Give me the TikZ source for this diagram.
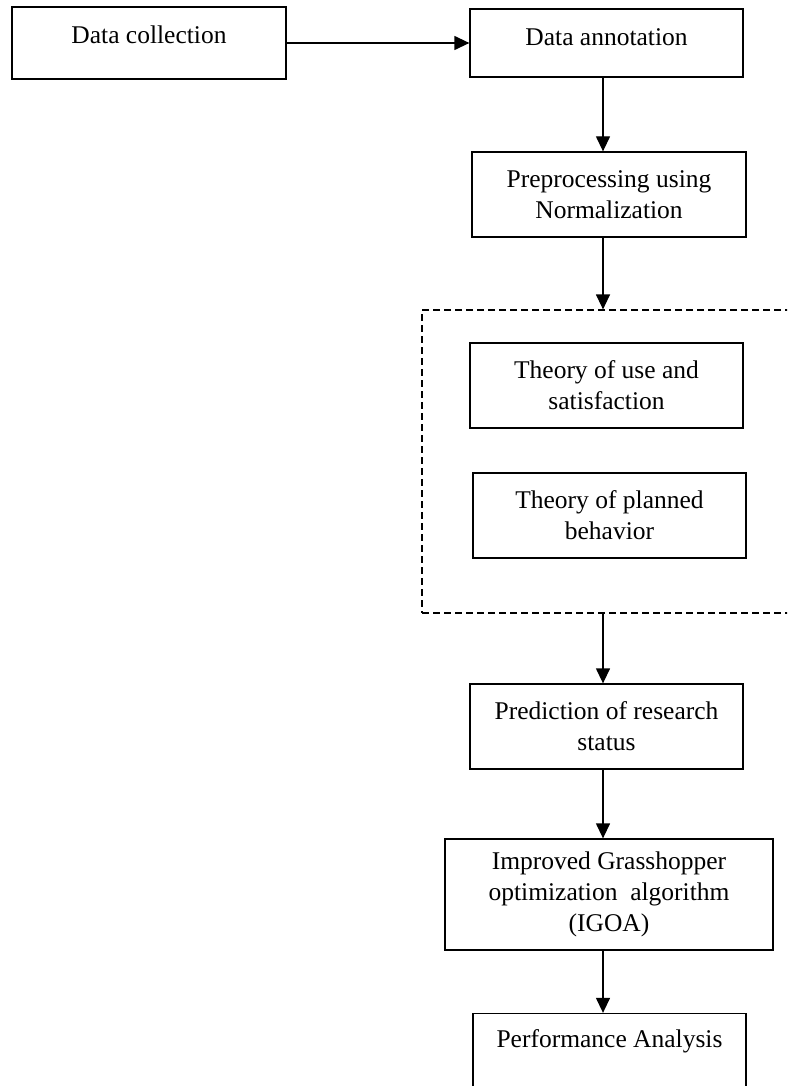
\documentclass[tikz,border=0pt]{standalone}
\usepackage{fontspec}
\setmainfont{Liberation Serif}
\usetikzlibrary{arrows.meta,calc}
\begin{document}
\begin{tikzpicture}[x=1pt,y=-1pt,
  box/.style={draw, line width=1.3pt, inner sep=0pt, align=center,
    font=\fontsize{25.5}{31}\selectfont},
  topbox/.style={draw, line width=1.3pt, inner sep=0pt,
    font=\fontsize{25.5}{31}\selectfont},
  grp/.style={draw, line width=1.2pt, dash pattern=on 7pt off 4pt, inner sep=0pt},
  arr/.style={line width=1.3pt, -{Triangle[length=15pt,width=14pt]}}]
\useasboundingbox (0,0) rectangle (787,1086);
\clip (0,0) rectangle (787,1086);
\coordinate (axis) at (603,0);
% boxes
\node[topbox, minimum width=274pt, text height=37pt, text depth=35pt] (dc) at (149,43) {Data collection};
\node[topbox, minimum width=273pt, text height=37pt, text depth=31pt] (da) at (606.5,43) {Data annotation};
\node[box, minimum width=274pt, minimum height=85pt] (pre) at (609,194.5) {Preprocessing using\\Normalization};
\node[grp, minimum width=380pt, minimum height=303pt] (grp) at (612,461.5) {};
\node[box, minimum width=273pt, minimum height=85pt] (t1) at (606.5,385.5) {Theory of use and\\satisfaction};
\node[box, minimum width=273pt, minimum height=85pt] (t2) at (609.5,515.5) {Theory of planned\\behavior};
\node[box, minimum width=273pt, minimum height=85pt] (pred) at (606.5,726.5) {Prediction of research\\status};
\node[box, minimum width=328pt, minimum height=111pt] (igoa) at (609,894.5) {Improved Grasshopper\\optimization\ \ algorithm\\(IGOA)};
\node[topbox, minimum width=273pt, text height=34pt, text depth=51pt] (perf) at (609.5,1056) {Performance Analysis};
% connectors
\draw[arr] (dc.east) -- (dc.east -| da.west);
\draw[arr] (da.south -| axis) -- (pre.north -| axis);
\draw[arr] (pre.south -| axis) -- (grp.north -| axis);
\draw[arr] (grp.south -| axis) -- (pred.north -| axis);
\draw[arr] (pred.south -| axis) -- (igoa.north -| axis);
\draw[arr] (igoa.south -| axis) -- (perf.north -| axis);
\end{tikzpicture}
\end{document}
